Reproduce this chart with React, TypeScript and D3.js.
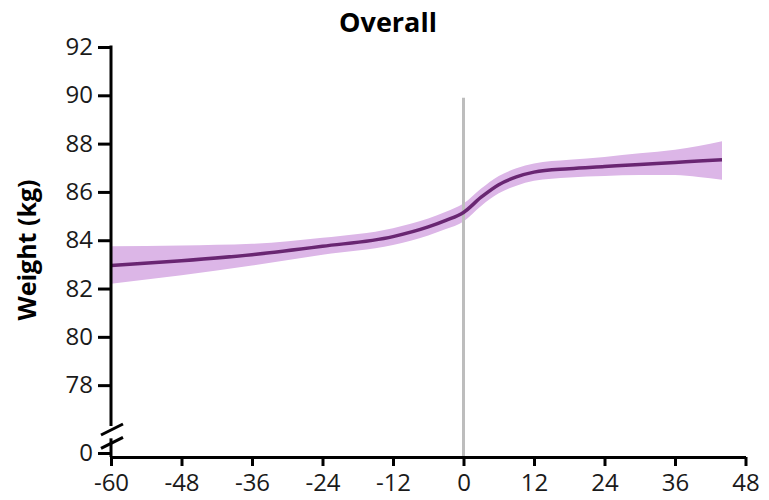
import React, { useEffect, useRef } from 'react';
import * as d3 from 'd3';

// months relative to event, fitted weight and 95% band
const months = [-60, -48, -36, -24, -12, -6, -3, 0, 3, 6, 9, 12, 18, 24, 30, 36, 40, 44];
const weight = [82.95, 83.15, 83.4, 83.75, 84.15, 84.55, 84.82, 85.15, 85.78, 86.3, 86.62, 86.82, 86.96, 87.05, 87.14, 87.22, 87.28, 87.33];
const upper = [83.75, 83.78, 83.85, 84.1, 84.5, 84.9, 85.18, 85.52, 86.14, 86.66, 86.98, 87.18, 87.33, 87.45, 87.6, 87.75, 87.9, 88.1];
const lower = [82.2, 82.55, 82.95, 83.4, 83.8, 84.2, 84.46, 84.78, 85.42, 85.94, 86.26, 86.46, 86.6, 86.66, 86.7, 86.7, 86.62, 86.5];

const xTicks = [-60, -48, -36, -24, -12, 0, 12, 24, 36, 48];
const yTicks = [78, 80, 82, 84, 86, 88, 90, 92];
const yTicksLow = [0];
const refLineTop = 89.9;

const FONT = '"Open Sans", "Noto Sans", sans-serif';

const App = () => {
  const svgRef = useRef<SVGSVGElement>(null);

  useEffect(() => {
    const svg = d3.select(svgRef.current);
    svg.selectAll('*').remove();

    const x = d3.scaleLinear().domain([-60, 48]).range([111, 745.5]);
    const y = d3.scaleLinear().domain([76.35, 92]).range([425, 47]);
    const yLow = d3.scaleLinear().domain([-0.15, 0.6]).range([457, 437]);

    const data = months.map((m, i) => ({ m, v: weight[i], lo: lower[i], hi: upper[i] }));
    const fmt = (d: any) => String(d);

    // confidence band
    const area = d3.area<any>()
      .x(d => x(d.m))
      .y0(d => y(d.lo))
      .y1(d => y(d.hi))
      .curve(d3.curveMonotoneX);
    svg.append('path')
      .datum(data)
      .attr('fill', '#dcb6e7')
      .attr('d', area);

    // reference line at 0
    svg.append('line')
      .attr('x1', x(0)).attr('x2', x(0))
      .attr('y1', y(refLineTop)).attr('y2', yLow(-0.15))
      .attr('stroke', '#bdbdbd')
      .attr('stroke-width', 3);

    // fitted line
    const line = d3.line<any>()
      .x(d => x(d.m))
      .y(d => y(d.v))
      .curve(d3.curveMonotoneX);
    svg.append('path')
      .datum(data)
      .attr('fill', 'none')
      .attr('stroke', '#692672')
      .attr('stroke-width', 3.5)
      .attr('d', line);

    // y axis upper part
    const yAxis = svg.append('g')
      .attr('transform', `translate(${x(-60)},0)`)
      .call(d3.axisLeft(y).tickValues(yTicks).tickFormat(fmt).tickSize(13).tickSizeOuter(0).tickPadding(5));
    yAxis.select('.domain').attr('d', `M0,${y(92) - 1.5}V${y(76.35) + 1}`);

    // y axis lower part
    const yAxisLow = svg.append('g')
      .attr('transform', `translate(${x(-60)},0)`)
      .call(d3.axisLeft(yLow).tickValues(yTicksLow).tickFormat(fmt).tickSize(13).tickSizeOuter(0).tickPadding(5));
    yAxisLow.select('.domain').attr('d', `M0,${yLow(0.55)}V${yLow(-0.15)}`);

    // x axis
    svg.append('g')
      .attr('transform', `translate(0,${yLow(-0.15)})`)
      .call(d3.axisBottom(x).tickValues(xTicks).tickFormat(fmt).tickSize(9).tickSizeOuter(0).tickPadding(8));

    svg.selectAll('.domain, .tick line')
      .attr('stroke', '#000')
      .attr('stroke-width', 3);
    svg.selectAll('.tick text')
      .attr('font-family', FONT)
      .attr('font-size', 24)
      .attr('fill', '#1a1a1a');

    // axis break marks
    const ax = x(-60);
    [y(76.35) + 5, yLow(0.55) + 5].forEach(cy => {
      svg.append('line')
        .attr('x1', ax - 10).attr('y1', cy + 5)
        .attr('x2', ax + 12).attr('y2', cy - 6)
        .attr('stroke', '#000')
        .attr('stroke-width', 3);
    });

    // title
    svg.append('text')
      .attr('x', 388).attr('y', 32)
      .attr('text-anchor', 'middle')
      .attr('font-family', FONT)
      .attr('font-weight', 'bold')
      .attr('font-size', 27)
      .text('Overall');

    // y label
    svg.append('text')
      .attr('transform', 'translate(36,250) rotate(-90)')
      .attr('text-anchor', 'middle')
      .attr('font-family', FONT)
      .attr('font-weight', 'bold')
      .attr('font-size', 25)
      .text('Weight (kg)');
  }, []);

  return (
    <svg
      ref={svgRef}
      width={769}
      height={500}
      style={{ position: 'absolute', left: 0, top: 0, background: '#fff' }}
    />
  );
};

export default App;
